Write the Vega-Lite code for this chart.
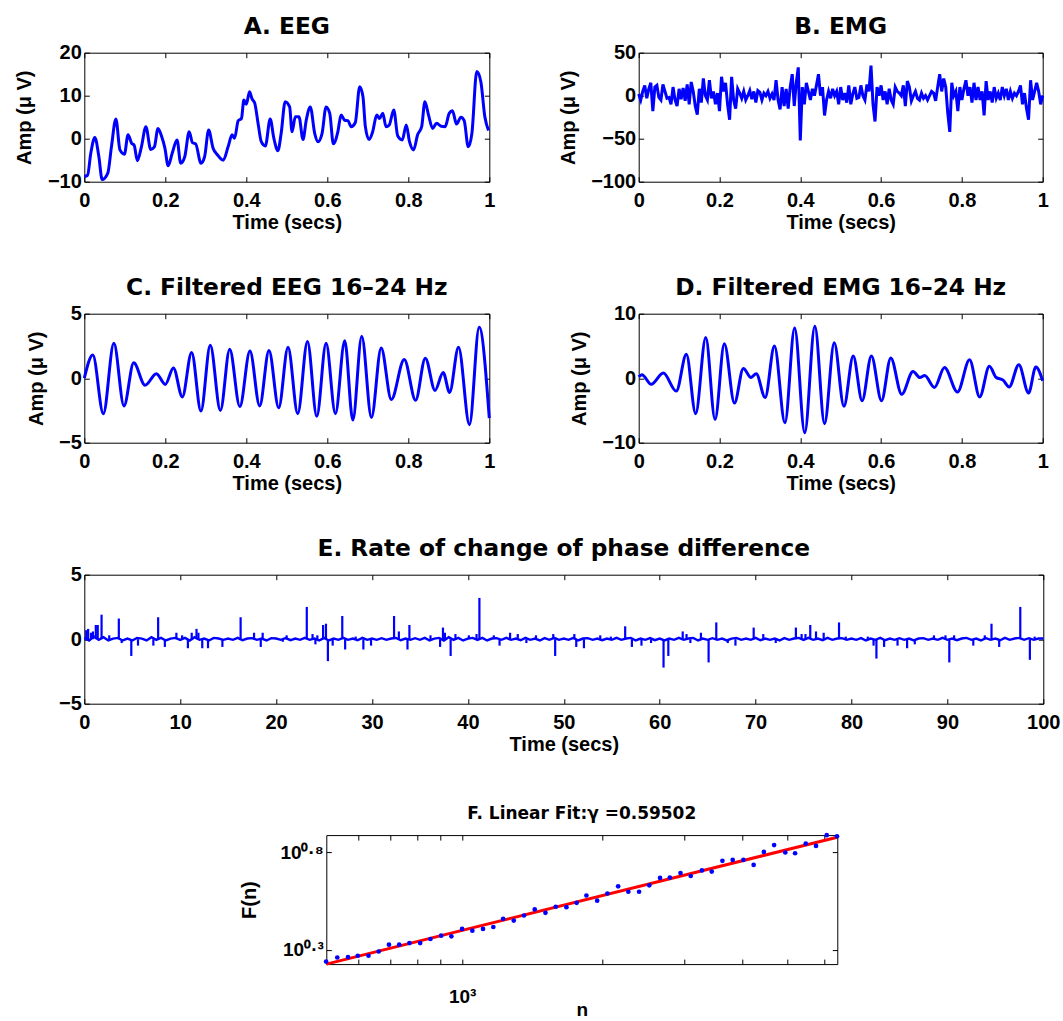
{
"$schema": "https://vega.github.io/schema/vega-lite/v6.json",
"padding": {"left": 3.3, "top": 14.7, "right": 0, "bottom": 0},
"background": "white",
"config": {
  "font": "Liberation Sans",
  "view": {"stroke": "black", "strokeWidth": 1},
  "axis": {"domain": false, "grid": false, "tickColor": "black", "tickSize": -5, "tickWidth": 1, "labelColor": "black", "labelFont": "Liberation Sans", "labelFontSize": 20, "labelFontWeight": "bold", "labelFlush": false, "labelOverlap": false, "titleColor": "black", "titleFont": "Liberation Sans", "titleFontSize": 20, "titleFontWeight": "bold"},
  "axisX": {"labelPadding": 14, "titlePadding": 2},
  "axisY": {"labelPadding": 8, "titlePadding": 12.5},
  "title": {"font": "DejaVu Sans", "fontSize": 23.3, "fontWeight": "bold", "color": "black", "offset": 3, "anchor": "middle", "frame": "group"},
  "line": {"color": "#0000ff", "strokeWidth": 3}
},
"datasets": {
  "eeg": [{"t":0,"v":-8.8},{"t":0.008,"v":-8.5},{"t":0.016,"v":-3.4},{"t":0.026,"v":0.3},{"t":0.036,"v":-4.2},{"t":0.044,"v":-9.5},{"t":0.058,"v":-8},{"t":0.067,"v":-1.9},{"t":0.078,"v":4.6},{"t":0.088,"v":-2.6},{"t":0.099,"v":-3.6},{"t":0.108,"v":0.9},{"t":0.117,"v":-1.1},{"t":0.123,"v":-1.5},{"t":0.131,"v":-5.1},{"t":0.141,"v":-1.9},{"t":0.152,"v":2.8},{"t":0.164,"v":-2.5},{"t":0.173,"v":-1.9},{"t":0.182,"v":2.4},{"t":0.191,"v":0.5},{"t":0.199,"v":-2.2},{"t":0.207,"v":-6.3},{"t":0.217,"v":-3.4},{"t":0.229,"v":-0.3},{"t":0.238,"v":-5.7},{"t":0.248,"v":-4.2},{"t":0.259,"v":1.6},{"t":0.267,"v":-0.9},{"t":0.275,"v":-1.2},{"t":0.288,"v":-5.7},{"t":0.297,"v":-4.2},{"t":0.307,"v":2.0},{"t":0.318,"v":-2.2},{"t":0.329,"v":-3.8},{"t":0.343,"v":-5.0},{"t":0.355,"v":-1.9},{"t":0.365,"v":0.9},{"t":0.371,"v":0.1},{"t":0.38,"v":4.2},{"t":0.388,"v":4.7},{"t":0.394,"v":9.0},{"t":0.4,"v":8.0},{"t":0.408,"v":10.9},{"t":0.414,"v":9.3},{"t":0.421,"v":8.2},{"t":0.429,"v":3.6},{"t":0.437,"v":-0.7},{"t":0.447,"v":-1.7},{"t":0.459,"v":4.6},{"t":0.468,"v":0.1},{"t":0.478,"v":-2.8},{"t":0.486,"v":1.2},{"t":0.496,"v":8.6},{"t":0.507,"v":7.4},{"t":0.513,"v":1.6},{"t":0.521,"v":5.1},{"t":0.53,"v":5.1},{"t":0.54,"v":-0.2},{"t":0.548,"v":4.3},{"t":0.558,"v":7.4},{"t":0.569,"v":1.2},{"t":0.577,"v":-0.7},{"t":0.587,"v":1.2},{"t":0.597,"v":7.4},{"t":0.606,"v":5.9},{"t":0.615,"v":-1.2},{"t":0.626,"v":1.6},{"t":0.634,"v":5.5},{"t":0.643,"v":4.3},{"t":0.651,"v":4.2},{"t":0.659,"v":2.8},{"t":0.669,"v":3.7},{"t":0.68,"v":12.1},{"t":0.688,"v":9.8},{"t":0.694,"v":2.8},{"t":0.703,"v":-0.2},{"t":0.712,"v":1.6},{"t":0.722,"v":5.5},{"t":0.729,"v":4.7},{"t":0.737,"v":5.9},{"t":0.745,"v":2.8},{"t":0.753,"v":3.2},{"t":0.764,"v":6.7},{"t":0.774,"v":0.6},{"t":0.785,"v":-0.3},{"t":0.795,"v":3.2},{"t":0.803,"v":-0.7},{"t":0.813,"v":-2.6},{"t":0.823,"v":0.9},{"t":0.833,"v":2.8},{"t":0.841,"v":8.6},{"t":0.85,"v":5.5},{"t":0.86,"v":2.4},{"t":0.87,"v":3.6},{"t":0.881,"v":2.9},{"t":0.891,"v":2.8},{"t":0.901,"v":5.9},{"t":0.909,"v":6.5},{"t":0.919,"v":3.4},{"t":0.93,"v":5.0},{"t":0.938,"v":4.2},{"t":0.948,"v":-1.9},{"t":0.957,"v":1.2},{"t":0.969,"v":15.6},{"t":0.979,"v":13.3},{"t":0.989,"v":5.1},{"t":0.998,"v":1.9}],
  "emg": [{"t":0,"v":2},{"t":0.005,"v":-5},{"t":0.01,"v":5},{"t":0.015,"v":12},{"t":0.02,"v":-3},{"t":0.025,"v":8},{"t":0.03,"v":15},{"t":0.035,"v":-18},{"t":0.04,"v":10},{"t":0.045,"v":12},{"t":0.05,"v":-2},{"t":0.055,"v":-5},{"t":0.06,"v":13},{"t":0.065,"v":5},{"t":0.07,"v":-3},{"t":0.075,"v":-2},{"t":0.08,"v":-10},{"t":0.085,"v":10},{"t":0.09,"v":-5},{"t":0.095,"v":-12},{"t":0.1,"v":8},{"t":0.105,"v":-4},{"t":0.11,"v":9},{"t":0.115,"v":-6},{"t":0.12,"v":13},{"t":0.125,"v":-10},{"t":0.13,"v":16},{"t":0.135,"v":5},{"t":0.14,"v":-12},{"t":0.145,"v":-22},{"t":0.15,"v":8},{"t":0.155,"v":-8},{"t":0.16,"v":20},{"t":0.165,"v":0},{"t":0.17,"v":-5},{"t":0.175,"v":18},{"t":0.18,"v":-3},{"t":0.185,"v":5},{"t":0.19,"v":-10},{"t":0.195,"v":3},{"t":0.2,"v":-18},{"t":0.205,"v":22},{"t":0.21,"v":5},{"t":0.215,"v":15},{"t":0.22,"v":-10},{"t":0.225,"v":-28},{"t":0.23,"v":22},{"t":0.235,"v":-5},{"t":0.24,"v":-15},{"t":0.245,"v":8},{"t":0.25,"v":3},{"t":0.255,"v":-3},{"t":0.26,"v":5},{"t":0.265,"v":-5},{"t":0.27,"v":0},{"t":0.275,"v":6},{"t":0.28,"v":-4},{"t":0.285,"v":5},{"t":0.29,"v":-8},{"t":0.295,"v":6},{"t":0.3,"v":4},{"t":0.305,"v":-5},{"t":0.31,"v":3},{"t":0.315,"v":0},{"t":0.32,"v":5},{"t":0.325,"v":-3},{"t":0.33,"v":2},{"t":0.335,"v":-5},{"t":0.34,"v":18},{"t":0.345,"v":-5},{"t":0.35,"v":-16},{"t":0.355,"v":10},{"t":0.36,"v":-12},{"t":0.365,"v":8},{"t":0.37,"v":-15},{"t":0.375,"v":10},{"t":0.38,"v":25},{"t":0.385,"v":-12},{"t":0.39,"v":15},{"t":0.395,"v":33},{"t":0.4,"v":-52},{"t":0.405,"v":10},{"t":0.41,"v":-10},{"t":0.415,"v":15},{"t":0.42,"v":5},{"t":0.425,"v":-5},{"t":0.43,"v":8},{"t":0.435,"v":0},{"t":0.44,"v":12},{"t":0.445,"v":25},{"t":0.45,"v":0},{"t":0.455,"v":10},{"t":0.46,"v":-23},{"t":0.465,"v":-5},{"t":0.47,"v":5},{"t":0.475,"v":-3},{"t":0.48,"v":8},{"t":0.485,"v":0},{"t":0.49,"v":5},{"t":0.495,"v":-10},{"t":0.5,"v":10},{"t":0.505,"v":-5},{"t":0.51,"v":3},{"t":0.515,"v":-8},{"t":0.52,"v":12},{"t":0.525,"v":-10},{"t":0.53,"v":2},{"t":0.535,"v":10},{"t":0.54,"v":-3},{"t":0.545,"v":-2},{"t":0.55,"v":12},{"t":0.555,"v":0},{"t":0.56,"v":-5},{"t":0.565,"v":13},{"t":0.57,"v":5},{"t":0.575,"v":35},{"t":0.58,"v":-10},{"t":0.585,"v":-30},{"t":0.59,"v":10},{"t":0.595,"v":0},{"t":0.6,"v":12},{"t":0.605,"v":-5},{"t":0.61,"v":5},{"t":0.615,"v":-10},{"t":0.62,"v":8},{"t":0.625,"v":-5},{"t":0.63,"v":-10},{"t":0.635,"v":10},{"t":0.64,"v":5},{"t":0.645,"v":3},{"t":0.65,"v":0},{"t":0.655,"v":12},{"t":0.66,"v":-12},{"t":0.665,"v":17},{"t":0.67,"v":10},{"t":0.675,"v":-6},{"t":0.68,"v":0},{"t":0.685,"v":5},{"t":0.69,"v":-3},{"t":0.695,"v":-5},{"t":0.7,"v":3},{"t":0.705,"v":-3},{"t":0.71,"v":0},{"t":0.715,"v":-5},{"t":0.72,"v":0},{"t":0.725,"v":5},{"t":0.73,"v":3},{"t":0.735,"v":-6},{"t":0.74,"v":10},{"t":0.745,"v":25},{"t":0.75,"v":5},{"t":0.755,"v":20},{"t":0.76,"v":10},{"t":0.765,"v":-20},{"t":0.77,"v":-42},{"t":0.775,"v":15},{"t":0.78,"v":0},{"t":0.785,"v":5},{"t":0.79,"v":-18},{"t":0.795,"v":10},{"t":0.8,"v":-5},{"t":0.805,"v":8},{"t":0.81,"v":18},{"t":0.815,"v":0},{"t":0.82,"v":10},{"t":0.825,"v":-8},{"t":0.83,"v":15},{"t":0.835,"v":-5},{"t":0.84,"v":10},{"t":0.845,"v":-5},{"t":0.85,"v":5},{"t":0.855,"v":-23},{"t":0.86,"v":17},{"t":0.865,"v":-5},{"t":0.87,"v":5},{"t":0.875,"v":-8},{"t":0.88,"v":10},{"t":0.885,"v":-3},{"t":0.89,"v":3},{"t":0.895,"v":-5},{"t":0.9,"v":10},{"t":0.905,"v":0},{"t":0.91,"v":8},{"t":0.915,"v":-5},{"t":0.92,"v":5},{"t":0.925,"v":-3},{"t":0.93,"v":3},{"t":0.935,"v":0},{"t":0.94,"v":5},{"t":0.945,"v":12},{"t":0.95,"v":-10},{"t":0.955,"v":3},{"t":0.96,"v":-15},{"t":0.965,"v":-28},{"t":0.97,"v":18},{"t":0.975,"v":-5},{"t":0.98,"v":5},{"t":0.985,"v":15},{"t":0.99,"v":5},{"t":0.995,"v":-10},{"t":1,"v":0}],
  "feeg": [{"t":0,"v":0},{"t":0.021,"v":1.8},{"t":0.047,"v":-2.75},{"t":0.073,"v":2.7},{"t":0.098,"v":-2.15},{"t":0.122,"v":1.2},{"t":0.15,"v":-0.55},{"t":0.178,"v":0.35},{"t":0.2,"v":-0.48},{"t":0.22,"v":0.8},{"t":0.242,"v":-1.45},{"t":0.265,"v":2.0},{"t":0.288,"v":-2.55},{"t":0.311,"v":2.55},{"t":0.336,"v":-2.5},{"t":0.359,"v":2.25},{"t":0.384,"v":-2.2},{"t":0.409,"v":2.1},{"t":0.433,"v":-2.15},{"t":0.456,"v":2.15},{"t":0.48,"v":-2.3},{"t":0.503,"v":2.4},{"t":0.527,"v":-2.75},{"t":0.551,"v":2.85},{"t":0.574,"v":-2.95},{"t":0.597,"v":2.7},{"t":0.62,"v":-2.75},{"t":0.643,"v":2.9},{"t":0.663,"v":-3.25},{"t":0.685,"v":3.25},{"t":0.709,"v":-3.05},{"t":0.733,"v":2.35},{"t":0.758,"v":-1.65},{"t":0.79,"v":1.45},{"t":0.818,"v":-1.7},{"t":0.842,"v":1.55},{"t":0.866,"v":-0.95},{"t":0.886,"v":0.45},{"t":0.902,"v":-1.1},{"t":0.924,"v":2.4},{"t":0.951,"v":-3.6},{"t":0.975,"v":3.95},{"t":1,"v":-3.1}],
  "femg": [{"t":0,"v":0.2},{"t":0.008,"v":0.55},{"t":0.031,"v":-0.95},{"t":0.061,"v":0.8},{"t":0.093,"v":-2.0},{"t":0.118,"v":3.7},{"t":0.141,"v":-5.5},{"t":0.166,"v":6.3},{"t":0.189,"v":-6.4},{"t":0.212,"v":5.35},{"t":0.237,"v":-3.85},{"t":0.259,"v":1.5},{"t":0.278,"v":0.1},{"t":0.291,"v":0.7},{"t":0.313,"v":-3.0},{"t":0.336,"v":5.0},{"t":0.362,"v":-6.9},{"t":0.386,"v":7.8},{"t":0.411,"v":-8.45},{"t":0.436,"v":8.05},{"t":0.46,"v":-7.05},{"t":0.484,"v":5.5},{"t":0.508,"v":-4.35},{"t":0.531,"v":3.45},{"t":0.553,"v":-3.5},{"t":0.576,"v":3.45},{"t":0.601,"v":-3.5},{"t":0.624,"v":3.15},{"t":0.651,"v":-2.5},{"t":0.679,"v":1.05},{"t":0.696,"v":0.1},{"t":0.708,"v":0.4},{"t":0.732,"v":-1.45},{"t":0.757,"v":1.65},{"t":0.789,"v":-2.15},{"t":0.819,"v":2.85},{"t":0.844,"v":-2.9},{"t":0.868,"v":1.85},{"t":0.885,"v":0.1},{"t":0.902,"v":-0.3},{"t":0.917,"v":-1.35},{"t":0.941,"v":2.1},{"t":0.965,"v":-2.3},{"t":0.983,"v":1.75},{"t":1,"v":-0.4}],
  "base": [{"t":0,"v":0.1},{"t":0.5,"v":-0.1},{"t":1,"v":0.2},{"t":1.5,"v":-0.05},{"t":2,"v":0.15},{"t":2.5,"v":-0.1},{"t":3,"v":0.05},{"t":3.5,"v":0.1},{"t":4,"v":-0.1},{"t":4.5,"v":0.05},
    {"t":5,"v":-0.1},{"t":5.5,"v":0.1},{"t":6,"v":0.05},{"t":6.5,"v":-0.1},{"t":7,"v":0.15},{"t":7.5,"v":-0.05},{"t":8,"v":0.1},{"t":8.5,"v":-0.1},{"t":9,"v":0.05},{"t":9.5,"v":0.1},
    {"t":10,"v":-0.05},{"t":10.5,"v":0.1},{"t":11,"v":-0.1},{"t":11.5,"v":0.15},{"t":12,"v":-0.05},{"t":12.5,"v":0.05},{"t":13,"v":-0.1},{"t":13.5,"v":0.1},{"t":14,"v":0.05},{"t":14.5,"v":-0.05},
    {"t":15,"v":0.05},{"t":15.5,"v":-0.05},{"t":16,"v":0.1},{"t":16.5,"v":-0.08},{"t":17,"v":0.05},{"t":17.5,"v":0.08},{"t":18,"v":-0.05},{"t":18.5,"v":0.05},{"t":19,"v":-0.1},{"t":19.5,"v":0.08},
    {"t":20,"v":0.05},{"t":20.5,"v":-0.05},{"t":21,"v":0.08},{"t":21.5,"v":-0.08},{"t":22,"v":0.05},{"t":22.5,"v":-0.05},{"t":23,"v":0.1},{"t":23.5,"v":-0.05},{"t":24,"v":0.05},{"t":24.5,"v":-0.1},
    {"t":25,"v":0.1},{"t":25.5,"v":-0.1},{"t":26,"v":0.05},{"t":26.5,"v":-0.05},{"t":27,"v":0.1},{"t":27.5,"v":-0.05},{"t":28,"v":0.05},{"t":28.5,"v":-0.08},{"t":29,"v":0.1},{"t":29.5,"v":-0.05},
    {"t":30,"v":0.05},{"t":30.5,"v":-0.05},{"t":31,"v":0.08},{"t":31.5,"v":-0.05},{"t":32,"v":0.05},{"t":32.5,"v":0.1},{"t":33,"v":-0.08},{"t":33.5,"v":0.05},{"t":34,"v":-0.05},{"t":34.5,"v":0.08},
    {"t":35,"v":-0.05},{"t":35.5,"v":0.1},{"t":36,"v":-0.1},{"t":36.5,"v":0.05},{"t":37,"v":0.1},{"t":37.5,"v":-0.1},{"t":38,"v":0.15},{"t":38.5,"v":-0.05},{"t":39,"v":0.1},{"t":39.5,"v":-0.1},
    {"t":40,"v":0.05},{"t":40.5,"v":0.1},{"t":41,"v":-0.05},{"t":41.5,"v":0.1},{"t":42,"v":-0.1},{"t":42.5,"v":0.05},{"t":43,"v":0.08},{"t":43.5,"v":-0.05},{"t":44,"v":0.1},{"t":44.5,"v":-0.05},
    {"t":45,"v":0.05},{"t":45.5,"v":-0.08},{"t":46,"v":0.1},{"t":46.5,"v":-0.05},{"t":47,"v":0.05},{"t":47.5,"v":-0.1},{"t":48,"v":0.08},{"t":48.5,"v":-0.05},{"t":49,"v":0.1},{"t":49.5,"v":-0.05},
    {"t":50,"v":0.05},{"t":50.5,"v":-0.05},{"t":51,"v":0.1},{"t":51.5,"v":-0.1},{"t":52,"v":0.05},{"t":52.5,"v":0.08},{"t":53,"v":-0.05},{"t":53.5,"v":0.05},{"t":54,"v":-0.08},{"t":54.5,"v":0.05},
    {"t":55,"v":-0.05},{"t":55.5,"v":0.1},{"t":56,"v":-0.05},{"t":56.5,"v":0.05},{"t":57,"v":0.1},{"t":57.5,"v":-0.1},{"t":58,"v":0.05},{"t":58.5,"v":-0.05},{"t":59,"v":0.08},{"t":59.5,"v":-0.08},
    {"t":60,"v":0.05},{"t":60.5,"v":-0.1},{"t":61,"v":0.05},{"t":61.5,"v":-0.05},{"t":62,"v":0.1},{"t":62.5,"v":-0.05},{"t":63,"v":0.05},{"t":63.5,"v":0.1},{"t":64,"v":-0.1},{"t":64.5,"v":0.05},
    {"t":65,"v":-0.05},{"t":65.5,"v":0.08},{"t":66,"v":-0.05},{"t":66.5,"v":0.05},{"t":67,"v":-0.1},{"t":67.5,"v":0.05},{"t":68,"v":0.1},{"t":68.5,"v":-0.05},{"t":69,"v":0.05},{"t":69.5,"v":-0.05},
    {"t":70,"v":0.1},{"t":70.5,"v":-0.08},{"t":71,"v":0.05},{"t":71.5,"v":-0.05},{"t":72,"v":0.05},{"t":72.5,"v":-0.1},{"t":73,"v":0.08},{"t":73.5,"v":-0.05},{"t":74,"v":0.05},{"t":74.5,"v":0.1},
    {"t":75,"v":-0.05},{"t":75.5,"v":0.1},{"t":76,"v":-0.05},{"t":76.5,"v":0.05},{"t":77,"v":-0.08},{"t":77.5,"v":0.1},{"t":78,"v":-0.05},{"t":78.5,"v":0.05},{"t":79,"v":0.08},{"t":79.5,"v":-0.05},
    {"t":80,"v":0.05},{"t":80.5,"v":-0.05},{"t":81,"v":0.08},{"t":81.5,"v":-0.1},{"t":82,"v":0.05},{"t":82.5,"v":-0.05},{"t":83,"v":0.1},{"t":83.5,"v":-0.08},{"t":84,"v":0.05},{"t":84.5,"v":-0.05},
    {"t":85,"v":0.08},{"t":85.5,"v":-0.05},{"t":86,"v":0.05},{"t":86.5,"v":-0.1},{"t":87,"v":0.05},{"t":87.5,"v":0.08},{"t":88,"v":-0.05},{"t":88.5,"v":0.05},{"t":89,"v":-0.05},{"t":89.5,"v":0.1},
    {"t":90,"v":-0.05},{"t":90.5,"v":0.05},{"t":91,"v":-0.08},{"t":91.5,"v":0.05},{"t":92,"v":0.1},{"t":92.5,"v":-0.05},{"t":93,"v":0.05},{"t":93.5,"v":-0.1},{"t":94,"v":0.08},{"t":94.5,"v":-0.05},
    {"t":95,"v":0.05},{"t":95.5,"v":-0.08},{"t":96,"v":0.1},{"t":96.5,"v":-0.05},{"t":97,"v":0.05},{"t":97.5,"v":0.1},{"t":98,"v":-0.05},{"t":98.5,"v":0.08},{"t":99,"v":-0.05},{"t":99.5,"v":0.05},{"t":100,"v":0.05}],
  "spikes": [{"t":0.2,"v":0.7},{"t":0.4,"v":0.8},{"t":0.7,"v":0.5},{"t":0.9,"v":0.6},{"t":1.2,"v":1.1},{"t":1.4,"v":1.1},{"t":1.8,"v":1.9},{"t":2.6,"v":0.3},{"t":3.6,"v":1.6},{"t":3.9,"v":-0.3},{"t":4.9,"v":-1.3},{"t":5.6,"v":-0.5},{"t":7.2,"v":-0.5},{"t":7.7,"v":1.7},{"t":8.4,"v":-0.6},{"t":9.6,"v":0.5},{"t":10.2,"v":0.3},{"t":10.8,"v":-0.7},{"t":11.2,"v":0.5},{"t":11.7,"v":0.8},{"t":11.9,"v":0.5},{"t":12.3,"v":-0.7},{"t":12.9,"v":-0.7},{"t":14.4,"v":-0.6},{"t":16.3,"v":1.7},{"t":17.7,"v":0.5},{"t":18.4,"v":-0.6},{"t":18.6,"v":0.5},{"t":20.7,"v":-0.2},{"t":21.1,"v":0.3},{"t":23.2,"v":2.5},{"t":23.8,"v":0.4},{"t":24.1,"v":-0.4},{"t":24.3,"v":0.3},{"t":24.9,"v":1.1},{"t":25.2,"v":1.2},{"t":25.4,"v":-1.7},{"t":25.9,"v":-0.5},{"t":26.9,"v":1.8},{"t":27.2,"v":-0.8},{"t":28.3,"v":0.2},{"t":29.1,"v":-0.8},{"t":29.9,"v":-0.5},{"t":32.3,"v":1.8},{"t":32.8,"v":0.6},{"t":33.7,"v":-0.8},{"t":33.9,"v":1.1},{"t":36.1,"v":0.3},{"t":37.1,"v":-0.6},{"t":37.4,"v":0.9},{"t":37.6,"v":0.5},{"t":38.2,"v":-1.3},{"t":38.7,"v":0.4},{"t":40.1,"v":0.3},{"t":40.9,"v":0.4},{"t":41.2,"v":3.2},{"t":42.7,"v":0.3},{"t":43.3,"v":-0.5},{"t":44.4,"v":0.5},{"t":45.2,"v":0.4},{"t":46.1,"v":-0.3},{"t":47.1,"v":0.3},{"t":48.9,"v":0.4},{"t":49.1,"v":-1.3},{"t":51.1,"v":0.4},{"t":51.3,"v":-0.6},{"t":52.1,"v":-0.7},{"t":53.8,"v":0.3},{"t":54.9,"v":0.2},{"t":56.4,"v":1.0},{"t":57.1,"v":-0.6},{"t":58.1,"v":-0.5},{"t":59.1,"v":-0.3},{"t":60.4,"v":-2.2},{"t":60.9,"v":-1.3},{"t":62.4,"v":0.6},{"t":62.8,"v":0.4},{"t":63.2,"v":-0.3},{"t":64.3,"v":0.5},{"t":65.1,"v":-1.8},{"t":65.9,"v":1.3},{"t":67.1,"v":-0.3},{"t":67.9,"v":-0.5},{"t":69.8,"v":0.9},{"t":70.8,"v":0.4},{"t":72.1,"v":-0.3},{"t":74.2,"v":0.9},{"t":74.8,"v":0.4},{"t":75.2,"v":0.4},{"t":75.7,"v":1.1},{"t":76.3,"v":0.6},{"t":77.1,"v":0.5},{"t":78.7,"v":1.3},{"t":79.4,"v":0.2},{"t":81.7,"v":0.2},{"t":82.3,"v":-0.5},{"t":82.6,"v":-1.5},{"t":83.4,"v":-0.6},{"t":84.8,"v":-0.5},{"t":85.8,"v":-0.7},{"t":86.6,"v":-0.4},{"t":88.6,"v":0.3},{"t":89.8,"v":0.3},{"t":90.2,"v":-1.8},{"t":90.7,"v":0.3},{"t":92.7,"v":-0.5},{"t":93.9,"v":0.3},{"t":94.6,"v":1.2},{"t":95.4,"v":-0.6},{"t":97.6,"v":2.5},{"t":98.6,"v":-1.6},{"t":99.1,"v":0.2}],
  "dfa": [{"n":510.5,"F":1.734},{"n":539.5,"F":1.82},{"n":568.9,"F":1.828},{"n":597,"F":1.858},{"n":629.5,"F":1.858},{"n":662.2,"F":1.954},{"n":696.6,"F":2.118},{"n":732.8,"F":2.118},{"n":770.9,"F":2.158},{"n":812.8,"F":2.158},{"n":855.1,"F":2.265},{"n":901.6,"F":2.355},{"n":948.4,"F":2.339},{"n":1000,"F":2.553},{"n":1052,"F":2.5},{"n":1109,"F":2.553},{"n":1167,"F":2.612},{"n":1225,"F":2.877},{"n":1291,"F":2.818},{"n":1358,"F":2.992},{"n":1432,"F":3.214},{"n":1510,"F":3.09},{"n":1589,"F":3.319},{"n":1675,"F":3.304},{"n":1762,"F":3.475},{"n":1849,"F":3.793},{"n":1950,"F":3.565},{"n":2051,"F":3.882},{"n":2163,"F":4.227},{"n":2275,"F":3.963},{"n":2399,"F":3.963},{"n":2523,"F":4.276},{"n":2661,"F":4.667},{"n":2793,"F":4.688},{"n":2944,"F":4.943},{"n":3097,"F":4.775},{"n":3273,"F":5.105},{"n":3436,"F":5.035},{"n":3622,"F":5.715},{"n":3811,"F":5.781},{"n":4018,"F":5.781},{"n":4227,"F":5.445},{"n":4446,"F":6.353},{"n":4677,"F":6.887},{"n":4943,"F":6.31},{"n":5188,"F":6.252},{"n":5470,"F":7.015},{"n":5754,"F":6.823},{"n":6067,"F":7.745},{"n":6383,"F":7.638}],
  "fit": [{"n":511,"F":1.683},{"n":6392,"F":7.565}]
},
"spacing": 47.4,
"vconcat": [
 {"spacing": 42,
  "vconcat": [
  {"spacing": 41.4,
   "hconcat": [
  {"title": "A. EEG", "width": 405, "height": 129, "data": {"name": "eeg"},
   "layer": [
     {"mark": {"type": "line", "interpolate": "monotone"},
      "encoding": {
        "x": {"field": "t", "type": "quantitative", "scale": {"domain": [0, 1], "nice": false, "zero": false}, "axis": {"orient": "bottom", "values": [0, 0.2, 0.4, 0.6, 0.8, 1], "format": "~g", "title": "Time (secs)"}},
        "y": {"field": "v", "type": "quantitative", "scale": {"domain": [-10, 20], "nice": false, "zero": false}, "axis": {"orient": "left", "values": [-10, 0, 10, 20], "title": "Amp (μ V)"}}}},
     {"mark": {"type": "point", "opacity": 0},
      "encoding": {
        "x": {"field": "t", "type": "quantitative", "scale": {"domain": [0, 1], "nice": false, "zero": false}, "axis": {"orient": "top", "values": [0, 0.2, 0.4, 0.6, 0.8, 1], "labels": false, "title": " ", "titleX": -80, "titleY": 5, "titleAlign": "left", "titleBaseline": "top"}},
        "y": {"field": "v", "type": "quantitative", "scale": {"domain": [-10, 20], "nice": false, "zero": false}, "axis": {"orient": "right", "values": [-10, 0, 10, 20], "labels": false, "title": null}}}}
   ],
   "resolve": {"axis": {"x": "independent", "y": "independent"}}},
  {"title": "B. EMG", "width": 404, "height": 129, "data": {"name": "emg"},
   "layer": [
     {"mark": {"type": "line"},
      "encoding": {
        "x": {"field": "t", "type": "quantitative", "scale": {"domain": [0, 1], "nice": false, "zero": false}, "axis": {"orient": "bottom", "values": [0, 0.2, 0.4, 0.6, 0.8, 1], "format": "~g", "title": "Time (secs)"}},
        "y": {"field": "v", "type": "quantitative", "scale": {"domain": [-100, 50], "nice": false, "zero": false}, "axis": {"orient": "left", "values": [-100, -50, 0, 50], "title": "Amp (μ V)"}}}},
     {"mark": {"type": "point", "opacity": 0},
      "encoding": {
        "x": {"field": "t", "type": "quantitative", "scale": {"domain": [0, 1], "nice": false, "zero": false}, "axis": {"orient": "top", "values": [0, 0.2, 0.4, 0.6, 0.8, 1], "labels": false, "title": " ", "titleX": -100, "titleY": 5, "titleAlign": "left", "titleBaseline": "top"}},
        "y": {"field": "v", "type": "quantitative", "scale": {"domain": [-100, 50], "nice": false, "zero": false}, "axis": {"orient": "right", "values": [-100, -50, 0, 50], "labels": false, "title": null}}}}
   ],
   "resolve": {"axis": {"x": "independent", "y": "independent"}}}
   ]},
  {"spacing": 41.4,
   "hconcat": [
  {"title": "C. Filtered EEG 16–24 Hz", "width": 405, "height": 129, "data": {"name": "feeg"},
   "layer": [
     {"mark": {"type": "line", "interpolate": "monotone"},
      "encoding": {
        "x": {"field": "t", "type": "quantitative", "scale": {"domain": [0, 1], "nice": false, "zero": false}, "axis": {"orient": "bottom", "values": [0, 0.2, 0.4, 0.6, 0.8, 1], "format": "~g", "title": "Time (secs)"}},
        "y": {"field": "v", "type": "quantitative", "scale": {"domain": [-5, 5], "nice": false, "zero": false}, "axis": {"orient": "left", "values": [-5, 0, 5], "title": "Amp (μ V)"}}}},
     {"mark": {"type": "point", "opacity": 0},
      "encoding": {
        "x": {"field": "t", "type": "quantitative", "scale": {"domain": [0, 1], "nice": false, "zero": false}, "axis": {"orient": "top", "values": [0, 0.2, 0.4, 0.6, 0.8, 1], "labels": false, "title": " ", "titleX": -80, "titleY": 5, "titleAlign": "left", "titleBaseline": "top"}},
        "y": {"field": "v", "type": "quantitative", "scale": {"domain": [-5, 5], "nice": false, "zero": false}, "axis": {"orient": "right", "values": [-5, 0, 5], "labels": false, "title": null}}}}
   ],
   "resolve": {"axis": {"x": "independent", "y": "independent"}}},
  {"title": "D. Filtered EMG 16–24 Hz", "width": 404, "height": 129, "data": {"name": "femg"},
   "layer": [
     {"mark": {"type": "line", "interpolate": "monotone"},
      "encoding": {
        "x": {"field": "t", "type": "quantitative", "scale": {"domain": [0, 1], "nice": false, "zero": false}, "axis": {"orient": "bottom", "values": [0, 0.2, 0.4, 0.6, 0.8, 1], "format": "~g", "title": "Time (secs)"}},
        "y": {"field": "v", "type": "quantitative", "scale": {"domain": [-10, 10], "nice": false, "zero": false}, "axis": {"orient": "left", "values": [-10, 0, 10], "title": "Amp (μ V)"}}}},
     {"mark": {"type": "point", "opacity": 0},
      "encoding": {
        "x": {"field": "t", "type": "quantitative", "scale": {"domain": [0, 1], "nice": false, "zero": false}, "axis": {"orient": "top", "values": [0, 0.2, 0.4, 0.6, 0.8, 1], "labels": false, "title": " ", "titleX": -100, "titleY": 5, "titleAlign": "left", "titleBaseline": "top"}},
        "y": {"field": "v", "type": "quantitative", "scale": {"domain": [-10, 10], "nice": false, "zero": false}, "axis": {"orient": "right", "values": [-10, 0, 10], "labels": false, "title": null}}}}
   ],
   "resolve": {"axis": {"x": "independent", "y": "independent"}}}
   ]},
  {"title": "E. Rate of change of phase difference", "width": 959, "height": 129,
   "layer": [
     {"data": {"name": "base"}, "mark": {"type": "line", "strokeWidth": 2.4},
      "encoding": {
        "x": {"field": "t", "type": "quantitative", "scale": {"domain": [0, 100], "nice": false, "zero": false}, "axis": {"orient": "bottom", "values": [0, 10, 20, 30, 40, 50, 60, 70, 80, 90, 100], "format": "d", "title": "Time (secs)"}},
        "y": {"field": "v", "type": "quantitative", "scale": {"domain": [-5, 5], "nice": false, "zero": false}, "axis": {"orient": "left", "values": [-5, 0, 5], "title": null}}}},
     {"data": {"name": "spikes"}, "mark": {"type": "rule", "color": "#0000ff", "strokeWidth": 2.2},
      "encoding": {
        "x": {"field": "t", "type": "quantitative", "scale": {"domain": [0, 100], "nice": false, "zero": false}, "axis": null},
        "y": {"field": "v", "type": "quantitative", "scale": {"domain": [-5, 5], "nice": false, "zero": false}, "axis": null},
        "y2": {"datum": 0}}},
     {"data": {"name": "base"}, "mark": {"type": "point", "opacity": 0},
      "encoding": {
        "x": {"field": "t", "type": "quantitative", "scale": {"domain": [0, 100], "nice": false, "zero": false}, "axis": {"orient": "top", "values": [0, 10, 20, 30, 40, 50, 60, 70, 80, 90, 100], "labels": false, "title": " ", "titleX": -80, "titleY": 5, "titleAlign": "left", "titleBaseline": "top"}},
        "y": {"field": "v", "type": "quantitative", "scale": {"domain": [-5, 5], "nice": false, "zero": false}, "axis": {"orient": "right", "values": [-5, 0, 5], "labels": false, "title": null}}}}
   ],
   "resolve": {"axis": {"x": "independent", "y": "independent"}}}
  ]},
 {"spacing": 0,
  "hconcat": [
  {"width": 137.7, "height": 1, "view": {"stroke": null}, "data": {"values": [{"a": 1, "b": 1}]}, "mark": {"type": "point", "opacity": 0}, "encoding": {"x": {"field": "a", "type": "quantitative", "axis": null}, "y": {"field": "b", "type": "quantitative", "axis": null}}},
  {"title": {"text": "F. Linear Fit:γ =0.59502", "fontSize": 17, "offset": 8.6}, "width": 511, "height": 129,
   "layer": [
     {"data": {"name": "fit"}, "mark": {"type": "line", "color": "#ff0000", "strokeWidth": 3},
      "encoding": {
        "x": {"field": "n", "type": "quantitative", "scale": {"type": "log", "domain": [511, 6392], "nice": false, "zero": false}, "axis": null},
        "y": {"field": "F", "type": "quantitative", "scale": {"type": "log", "domain": [1.683, 7.754], "nice": false, "zero": false}, "axis": null}}},
     {"data": {"name": "dfa"}, "mark": {"type": "circle", "color": "#0000ff", "size": 22, "opacity": 1},
      "encoding": {
        "x": {"field": "n", "type": "quantitative", "scale": {"type": "log", "domain": [511, 6392], "nice": false, "zero": false}, "axis": {"orient": "bottom", "values": [600, 700, 800, 900, 1000, 2000, 3000, 4000, 5000, 6000], "labelExpr": "datum.value == 1000 ? '10³' : ''", "labelFontSize": 19, "labelPadding": 28, "title": "n", "titleFontSize": 19, "titlePadding": -6}},
        "y": {"field": "F", "type": "quantitative", "scale": {"type": "log", "domain": [1.683, 7.754], "nice": false, "zero": false}, "axis": {"orient": "left", "values": [1.99526, 6.30957], "labelExpr": "datum.value < 3 ? '10⁰·³' : '10⁰·⁸'", "labelFontSize": 19, "labelPadding": 8, "title": "F(n)", "titlePadding": 20}}}},
     {"data": {"name": "dfa"}, "mark": {"type": "point", "opacity": 0},
      "encoding": {
        "x": {"field": "n", "type": "quantitative", "scale": {"type": "log", "domain": [511, 6392], "nice": false, "zero": false}, "axis": {"orient": "top", "values": [600, 700, 800, 900, 1000, 2000, 3000, 4000, 5000, 6000], "labels": false, "title": " ", "titleX": -100, "titleY": 5, "titleAlign": "left", "titleBaseline": "top"}},
        "y": {"field": "F", "type": "quantitative", "scale": {"type": "log", "domain": [1.683, 7.754], "nice": false, "zero": false}, "axis": {"orient": "right", "values": [1.99526, 6.30957], "labels": false, "title": null}}}}
   ],
   "resolve": {"axis": {"x": "independent", "y": "independent"}}}
  ]}
]
}
